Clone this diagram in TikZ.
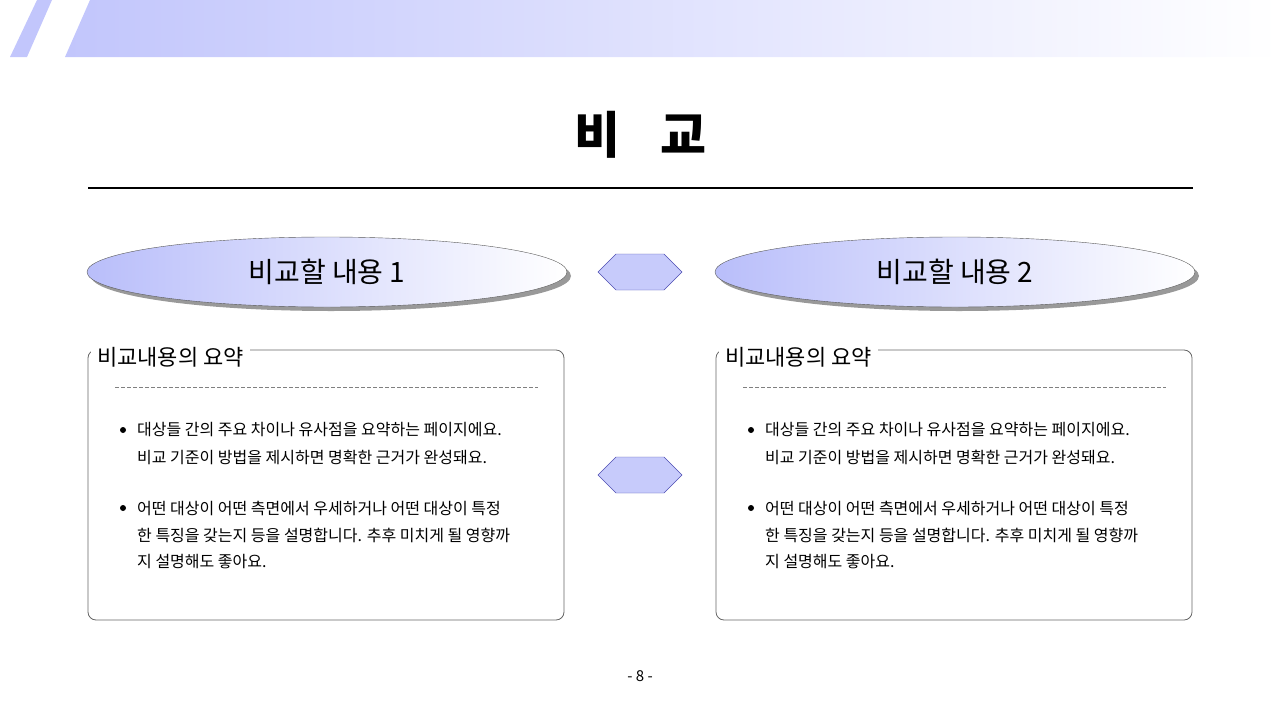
\documentclass[tikz,border=0pt]{standalone}
\usepackage{fontspec}
\setmainfont{Noto Sans CJK KR}
\usetikzlibrary{shapes.arrows,shapes.geometric}
\definecolor{lav}{HTML}{B9BEFA}
\definecolor{band}{HTML}{C2C6FC}
\tikzset{
  ell/.style={ellipse, minimum width=480pt, minimum height=70pt, draw=gray!70!black, left color=lav, right color=white, font=\fontsize{28}{30}\selectfont},
  shad/.style={ellipse, minimum width=480pt, minimum height=70pt, fill=gray!80},
  darr/.style={double arrow, double arrow head extend=0pt, minimum width=36pt, minimum height=84pt, inner sep=0pt, shape border uses incircle=false, draw=gray!60!blue, fill=lav!80, double arrow tip angle=90},
  box/.style={draw=gray!80!black, rounded corners=8pt, line width=0.8pt},
  boxtitle/.style={anchor=west, fill=white, inner xsep=6pt, font=\fontsize{22}{24}\selectfont},
  txt/.style={anchor=west, inner sep=0pt, font=\fontsize{16}{18}\selectfont},
  bul/.style={circle, fill=black, inner sep=0pt, minimum size=6pt}
}
\begin{document}
\begin{tikzpicture}[x=1pt,y=-1pt]
\useasboundingbox (0,0) rectangle (1280,720);
\fill[band] (10,57) -- (37,0) -- (52,0) -- (27,57) -- cycle;
\shade[left color=band, right color=white] (65,57) -- (90,0) -- (1280,0) -- (1280,57) -- cycle;
\node[font=\bfseries\fontsize{50}{52}\selectfont] (title) at (640,135) {비\hspace{40pt}교};
\draw[line width=2pt] (88,188) coordinate (l1) -- (1193,188) coordinate (l2);
\foreach \cx/\n in {327/1, 955/2}{
  \node[shad] at (\cx+4,276) {};
  \node[ell] (e\n) at (\cx,272) {비교할 내용 \n};
}
\node[darr] (a1) at (640,272) {};
\node[darr] (a2) at (640,475) {};
\foreach \bx/\n in {88/1, 716/2}{
  \draw[box] (\bx,350) rectangle (\bx+476,620);
  \node[boxtitle] (t\n) at (\bx+3,357) {비교내용의 요약\hspace{8pt}};
  \draw[dashed, gray, dash pattern=on 4pt off 2pt] (\bx+27,387) -- (\bx+450,387);
  \node[bul] at (\bx+35,430) {};
  \node[txt] at (\bx+49,430) {대상들 간의 주요 차이나 유사점을 요약하는 페이지에요.};
  \node[txt] at (\bx+49,457) {비교 기준이 방법을 제시하면 명확한 근거가 완성돼요.};
  \node[bul] at (\bx+35,508) {};
  \node[txt] at (\bx+49,508) {어떤 대상이 어떤 측면에서 우세하거나 어떤 대상이 특정};
  \node[txt] at (\bx+49,535) {한 특징을 갖는지 등을 설명합니다. 추후 미치게 될 영향까};
  \node[txt] at (\bx+49,562) {지 설명해도 좋아요.};
}
\node[font=\fontsize{15}{16}\selectfont] (pg) at (640,676) {- 8 -};
\end{tikzpicture}
\end{document}
